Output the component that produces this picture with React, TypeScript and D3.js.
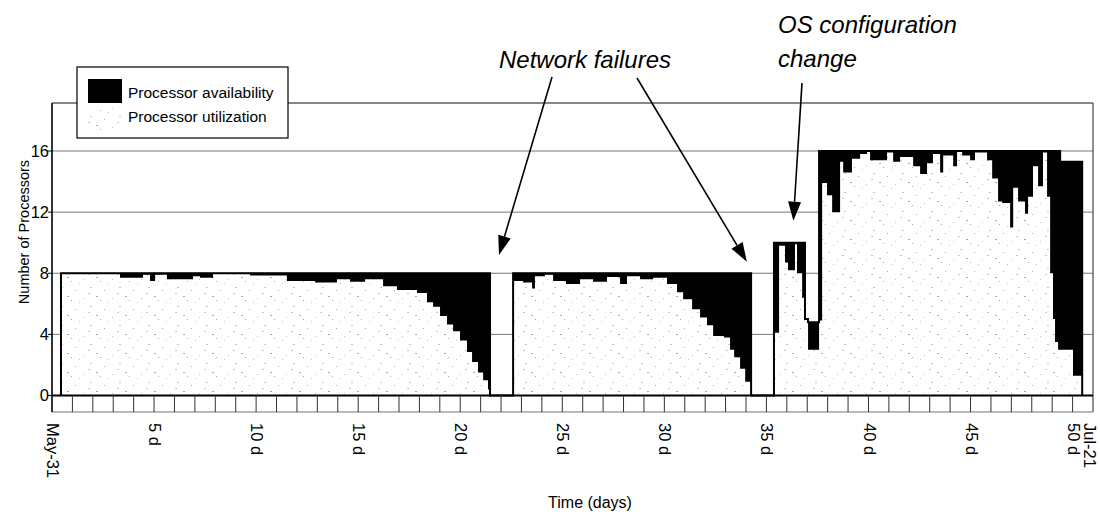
import React, { useEffect, useRef } from 'react';
import * as d3 from 'd3';

// step boundaries in days since May-31; each value holds until the next boundary
const days = [
  0.44, 0.44, 3.33, 4.46, 4.8, 5.05, 5.63, 6.91, 7.25, 7.89, 9.7, 11.51, 12.89, 13.96, 14.6, 15.34,
  16.22, 16.9, 17.88, 18.37, 18.67, 19.01, 19.35, 19.65, 19.99, 20.33, 20.58, 20.87, 21.12, 21.36,
  21.46, 22.59, 23.08, 23.52, 23.66, 24.15, 24.55, 25.18, 25.87, 26.51, 27.19, 27.83, 28.17, 28.81,
  29.45, 30.13, 30.62, 30.92, 31.36, 31.75, 32.09, 32.39, 32.92, 33.22, 33.42, 33.71, 33.96, 34.25,
  35.37, 35.62, 35.91, 36.06, 36.4, 36.5, 36.75, 36.89, 37.04, 37.58, 37.73, 37.97, 38.22, 38.61,
  38.76, 39.19, 39.59, 39.93, 40.08, 40.91, 41.21, 41.55, 42.19, 42.53, 42.87, 43.16, 43.51, 43.66,
  44.15, 44.34, 44.59, 44.98, 45.22, 45.81, 46.06, 46.35, 46.55, 46.94, 47.09, 47.33, 47.67, 47.82,
  48.06, 48.31, 48.55, 48.75, 48.9, 49.04, 49.14, 49.29, 49.39, 50.02, 50.47,
];

const availability = [
  0, 8, 8, 8, 8, 8, 8, 8, 8, 8, 8, 8, 8, 8, 8, 8,
  8, 8, 8, 8, 8, 8, 8, 8, 8, 8, 8, 8, 8, 8,
  0, 8, 8, 8, 8, 8, 8, 8, 8, 8, 8, 8, 8, 8,
  8, 8, 8, 8, 8, 8, 8, 8, 8, 8, 8, 8, 8, 0,
  10, 10, 10, 10, 10, 10, 10, 5, 4.8, 16, 16, 16, 16, 16,
  16, 16, 16, 16, 16, 16, 16, 16, 16, 16, 16, 16, 16, 16,
  16, 16, 16, 16, 16, 16, 16, 16, 16, 16, 16, 16, 16, 16,
  16, 16, 16, 16, 16, 16, 16, 16, 15.3, 15.3, 0,
];

const utilization = [
  0, 8, 7.7, 7.9, 7.5, 7.9, 7.6, 7.8, 7.7, 7.95, 7.85, 7.5, 7.4, 7.6, 7.45, 7.6,
  7.15, 6.9, 6.7, 6.1, 5.8, 5.2, 4.65, 4.2, 3.6, 2.85, 2.2, 1.5, 1.0, 0.4,
  0, 7.5, 7.4, 7.0, 7.8, 7.9, 7.5, 7.3, 7.6, 7.45, 7.75, 7.3, 7.8, 7.6,
  7.7, 7.3, 6.75, 6.3, 5.65, 5.1, 4.6, 3.9, 3.8, 3.0, 2.5, 1.75, 0.9, 0,
  4.1, 9.8, 8.7, 8.2, 9.9, 8.0, 6.4, 5.0, 3.0, 4.9, 13.9, 13.1, 12.0, 15.3,
  14.6, 15.5, 15.8, 16.0, 15.4, 15.9, 15.3, 15.6, 15.0, 14.5, 15.2, 15.8, 14.6, 15.7,
  15.0, 16.0, 15.7, 15.4, 15.9, 15.4, 14.2, 12.7, 12.6, 11.0, 13.6, 12.7, 11.9, 13.0,
  15.0, 13.7, 15.9, 13.0, 8.0, 5.0, 3.5, 3.0, 3.0, 1.3, 0,
];

const yTicks = [0, 4, 8, 12, 16];
const gridValues = [4, 8, 12, 16];
const xLabelDays = [0, 5, 10, 15, 20, 25, 30, 35, 40, 45, 50, 51];
const xLabels = ['May-31', '5 d', '10 d', '15 d', '20 d', '25 d', '30 d', '35 d', '40 d', '45 d', '50 d', 'Jul-21'];
const legendLabels = ['Processor availability', 'Processor utilization'];

const FONT = 'Liberation Sans, Arial, Helvetica, sans-serif';

const App = () => {
  const svgRef = useRef<SVGSVGElement>(null);

  useEffect(() => {
    const svg = d3.select(svgRef.current);
    svg.selectAll('*').remove();

    const left = 52, right = 1093, top = 103, bottom = 412;
    const x = d3.scaleLinear().domain([0, 51]).range([left, right]);
    const y = d3.scaleLinear().domain([0, 16]).range([395.5, 151]);

    // sparse faint speckles for the utilization fill
    const defs = svg.append('defs');
    const pat = defs.append('pattern')
      .attr('id', 'speckle')
      .attr('patternUnits', 'userSpaceOnUse')
      .attr('width', 29)
      .attr('height', 19);
    pat.append('rect').attr('width', 29).attr('height', 19).attr('fill', '#fff');
    const dots = [[3, 2], [17, 5], [25, 13], [9, 11], [21, 17], [13, 15], [1, 8]];
    dots.forEach(([a, b], i) => {
      pat.append('rect')
        .attr('x', a).attr('y', b)
        .attr('width', i % 3 === 0 ? 2 : 1).attr('height', 1)
        .attr('fill', i % 2 ? '#a8a8a8' : '#c4c4c4');
    });

    svg.append('rect').attr('width', 1100).attr('height', 512).attr('fill', '#fff');

    // gridlines
    svg.selectAll('.grid')
      .data(gridValues)
      .enter().append('line')
      .attr('x1', left).attr('x2', right)
      .attr('y1', d => y(d)).attr('y2', d => y(d))
      .attr('stroke', '#777')
      .attr('stroke-width', 1);

    const idx = d3.range(days.length);

    const availArea = d3.area<number>()
      .x(i => x(days[i]))
      .y0(y(0))
      .y1(i => y(availability[i]))
      .curve(d3.curveStepAfter);

    const utilArea = d3.area<number>()
      .x(i => x(days[i]))
      .y0(y(0))
      .y1(i => y(utilization[i]))
      .curve(d3.curveStepAfter);

    const availLine = d3.line<number>()
      .x(i => x(days[i]))
      .y(i => y(availability[i]))
      .curve(d3.curveStepAfter);

    svg.append('path').attr('d', availArea(idx)).attr('fill', '#000');
    svg.append('path').attr('d', utilArea(idx)).attr('fill', 'url(#speckle)');
    svg.append('path').attr('d', availLine(idx))
      .attr('fill', 'none')
      .attr('stroke', '#000')
      .attr('stroke-width', 2);

    // frame
    svg.append('line').attr('x1', left).attr('x2', right).attr('y1', top).attr('y2', top)
      .attr('stroke', '#111').attr('stroke-width', 1.2);
    svg.append('line').attr('x1', right).attr('x2', right).attr('y1', top).attr('y2', bottom)
      .attr('stroke', '#444').attr('stroke-width', 1.2);
    svg.append('line').attr('x1', left).attr('x2', right).attr('y1', bottom).attr('y2', bottom)
      .attr('stroke', '#777').attr('stroke-width', 1.2);
    svg.append('line').attr('x1', left).attr('x2', left).attr('y1', top).attr('y2', bottom)
      .attr('stroke', '#000').attr('stroke-width', 1.6);

    // x axis with daily ticks
    svg.append('line').attr('x1', left).attr('x2', right).attr('y1', y(0)).attr('y2', y(0))
      .attr('stroke', '#000').attr('stroke-width', 2.2);
    svg.selectAll('.dtick')
      .data(d3.range(1, 51))
      .enter().append('line')
      .attr('x1', d => x(d)).attr('x2', d => x(d))
      .attr('y1', y(0)).attr('y2', bottom)
      .attr('stroke', '#333').attr('stroke-width', 1);

    svg.selectAll('.xlab')
      .data(xLabelDays)
      .enter().append('text')
      .attr('transform', d => `translate(${Math.min(x(d), 1089)},423) rotate(90)`)
      .attr('dy', '0.3em')
      .attr('font-family', FONT)
      .attr('font-size', 16.5)
      .attr('fill', '#000')
      .text((d, i) => xLabels[i]);

    // y axis
    svg.selectAll('.ytick')
      .data(yTicks)
      .enter().append('line')
      .attr('x1', left - 4).attr('x2', left)
      .attr('y1', d => y(d)).attr('y2', d => y(d))
      .attr('stroke', '#000');
    svg.selectAll('.ylab')
      .data(yTicks)
      .enter().append('text')
      .attr('x', left - 3)
      .attr('y', d => y(d))
      .attr('dy', '0.36em')
      .attr('text-anchor', 'end')
      .attr('font-family', FONT)
      .attr('font-size', 16.5)
      .text(d => d);

    svg.append('text')
      .attr('transform', 'translate(24,232) rotate(-90)')
      .attr('dy', '0.35em')
      .attr('text-anchor', 'middle')
      .attr('font-family', FONT)
      .attr('font-size', 14.5)
      .text('Number of Processors');

    svg.append('text')
      .attr('x', 590).attr('y', 508)
      .attr('text-anchor', 'middle')
      .attr('font-family', FONT)
      .attr('font-size', 16)
      .text('Time (days)');

    // legend
    const lg = svg.append('g');
    lg.append('rect').attr('x', 77).attr('y', 67).attr('width', 211).attr('height', 71)
      .attr('fill', '#fff').attr('stroke', '#000').attr('stroke-width', 1.2);
    lg.append('rect').attr('x', 88).attr('y', 79).attr('width', 34).attr('height', 24).attr('fill', '#000');
    lg.append('rect').attr('x', 88).attr('y', 107).attr('width', 34).attr('height', 24).attr('fill', 'url(#speckle)');
    lg.selectAll('.ltext')
      .data(legendLabels)
      .enter().append('text')
      .attr('x', 128)
      .attr('y', (d, i) => 97.5 + i * 24)
      .attr('font-family', FONT)
      .attr('font-size', 15.5)
      .text(d => d);

    // annotations
    const ann = svg.append('g');
    const arrow = (x1: number, y1: number, x2: number, y2: number) => {
      const ang = Math.atan2(y2 - y1, x2 - x1);
      const L = 19, W = 6.5;
      const bx = x2 - L * Math.cos(ang), by = y2 - L * Math.sin(ang);
      ann.append('line')
        .attr('x1', x1).attr('y1', y1).attr('x2', bx).attr('y2', by)
        .attr('stroke', '#000').attr('stroke-width', 1.6);
      ann.append('path')
        .attr('d', `M${x2},${y2}L${bx + W * Math.sin(ang)},${by - W * Math.cos(ang)}L${bx - W * Math.sin(ang)},${by + W * Math.cos(ang)}Z`)
        .attr('fill', '#000');
    };
    arrow(552, 77, x(21.9), y(9.2));
    arrow(637, 78, x(34.04), y(8.76));
    arrow(802, 83, x(36.32), y(11.44));

    ann.append('text')
      .attr('x', 585).attr('y', 68)
      .attr('text-anchor', 'middle')
      .attr('font-family', FONT)
      .attr('font-style', 'italic')
      .attr('font-size', 24)
      .text('Network failures');
    ann.append('text')
      .attr('x', 778).attr('y', 33)
      .attr('font-family', FONT)
      .attr('font-style', 'italic')
      .attr('font-size', 24)
      .text('OS configuration');
    ann.append('text')
      .attr('x', 778).attr('y', 67)
      .attr('font-family', FONT)
      .attr('font-style', 'italic')
      .attr('font-size', 24)
      .text('change');
  }, []);

  return (
    <svg
      ref={svgRef}
      width={1100}
      height={512}
      style={{ position: 'absolute', left: 0, top: 0, background: '#fff' }}
    ></svg>
  );
};

export default App;
